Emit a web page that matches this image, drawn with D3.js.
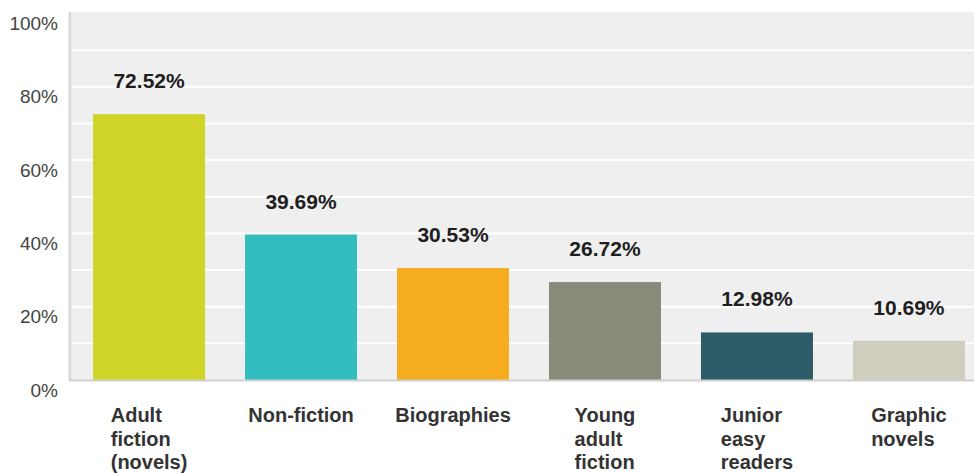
<!DOCTYPE html>
<head>
<meta charset="utf-8">
<style>
body { margin: 0; background: #fff; }
svg { display: block; }
.tick text { font-family: Arial, "Liberation Sans", sans-serif; }
.valueLabel {
  font: bold 21px Arial, "Liberation Sans", sans-serif;
  fill: #1e1e1e;
  text-anchor: middle;
}
.catLabel {
  font: bold 20px Arial, "Liberation Sans", sans-serif;
  fill: #333;
}
</style>
</head>
<body>
<svg width="974" height="473"></svg>
<script src="https://d3js.org/d3.v7.min.js"></script>
<script>
// survey answers, share of respondents
var categories = ["Adult fiction (novels)", "Non-fiction", "Biographies", "Young adult fiction", "Junior easy readers", "Graphic novels"];
var values = [72.52, 39.69, 30.53, 26.72, 12.98, 10.69];
var barColors = ["#cfd426", "#33bdbf", "#f5ac1f", "#898a7a", "#2e5b68", "#d0cebf"];
var yTicks = [0, 20, 40, 60, 80, 100];
var gridTicks = [10, 20, 30, 40, 50, 60, 70, 80, 90];

var svg = d3.select("svg"),
    plotLeft = 72,
    plotTop = 12,
    plotBottom = 380,
    plotRight = 974;

var x = d3.scaleBand()
    .domain(categories)
    .range([73, 985])
    .paddingInner(0.263)
    .paddingOuter(0.132);

var y = d3.scaleLinear()
    .domain([0, 100])
    .range([plotBottom, 13.5]);

// plot background
svg.append("rect")
    .attr("x", plotLeft).attr("y", plotTop)
    .attr("width", plotRight - plotLeft).attr("height", plotBottom - plotTop)
    .attr("fill", "#efefef");

// white gridlines
svg.selectAll(".grid")
  .data(gridTicks)
  .enter().append("line")
    .attr("class", "grid")
    .attr("x1", plotLeft).attr("x2", plotRight)
    .attr("y1", function(d) { return y(d); })
    .attr("y2", function(d) { return y(d); })
    .attr("stroke", "#fff")
    .attr("stroke-width", 2);

// bars
svg.selectAll(".bar")
  .data(values)
  .enter().append("rect")
    .attr("class", "bar")
    .attr("x", function(d, i) { return x(categories[i]); })
    .attr("y", function(d) { return y(d); })
    .attr("width", x.bandwidth())
    .attr("height", function(d) { return plotBottom - y(d); })
    .attr("fill", function(d, i) { return barColors[i]; });

// axis lines
svg.append("line")
    .attr("x1", 70).attr("x2", 70)
    .attr("y1", plotTop).attr("y2", plotBottom + 1)
    .attr("stroke", "#d8d8d8").attr("stroke-width", 3);
svg.append("line")
    .attr("x1", 69).attr("x2", plotRight)
    .attr("y1", plotBottom + 0.5).attr("y2", plotBottom + 0.5)
    .attr("stroke", "#cfcfcf").attr("stroke-width", 2);

// y axis labels (sit a little below their gridline, as in the original)
var yAxis = svg.append("g")
    .attr("transform", "translate(58,0)")
    .call(d3.axisLeft(y).tickValues(yTicks).tickSize(0).tickPadding(0)
      .tickFormat(function(d) { return d + "%"; }));
yAxis.select(".domain").remove();
yAxis.selectAll("text")
    .attr("dy", "0.85em")
    .attr("font-size", 19)
    .attr("fill", "#444");

// value labels
svg.selectAll(".valueLabel")
  .data(values)
  .enter().append("text")
    .attr("class", "valueLabel")
    .attr("x", function(d, i) { return x(categories[i]) + x.bandwidth() / 2; })
    .attr("y", function(d) { return y(d) - 26; })
    .text(function(d) { return d.toFixed(2) + "%"; });

// category labels: one word per line, block centred under the bar
categories.forEach(function(c, i) {
  var t = svg.append("text").attr("class", "catLabel").attr("y", 422);
  c.split(" ").forEach(function(w, j) {
    t.append("tspan").attr("dy", j ? 23.5 : 0).text(w);
  });
  var wMax = d3.max(t.selectAll("tspan").nodes(), function(n) { return n.getComputedTextLength(); });
  var x0 = x(c) + x.bandwidth() / 2 - wMax / 2;
  t.selectAll("tspan").attr("x", x0);
});
</script>
</body>
